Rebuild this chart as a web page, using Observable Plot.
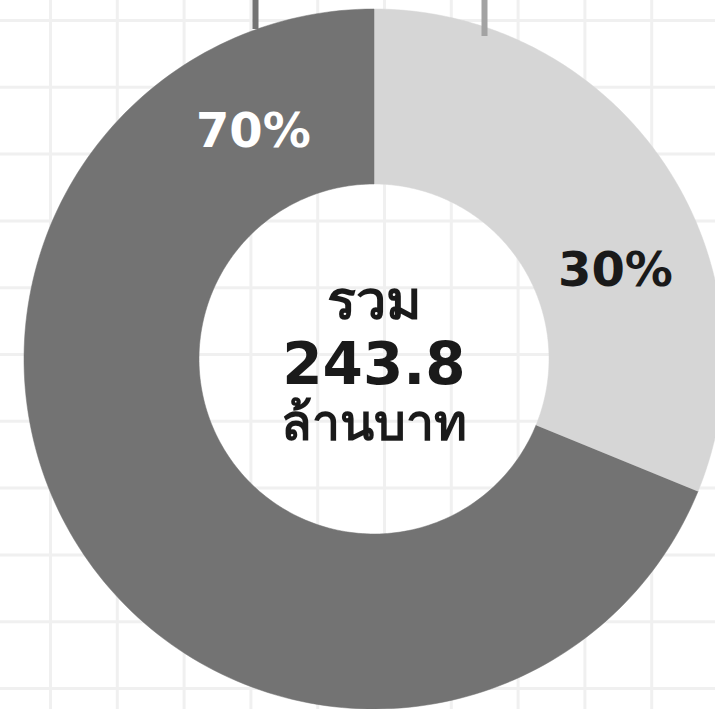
<!DOCTYPE html>
<html>
<head>
<meta charset="utf-8">
<script src="https://cdn.jsdelivr.net/npm/d3@7"></script>
<script src="https://cdn.jsdelivr.net/npm/@observablehq/plot@0.6"></script>
<style>
  html, body { margin: 0; padding: 0; background: #ffffff; }
  #chart svg { display: block; }
</style>
</head>
<body>
<div id="chart"></div>
<script>
// ---- data ----
const categories = ["ส่วนที่ 1", "ส่วนที่ 2"];
const values = [76.0, 167.8];            // ล้านบาท (estimated from arc angles)
const percentLabels = ["30%", "70%"];
const totalLabel = ["รวม", "243.8", "ล้านบาท"];

// ---- layout / style ----
const W = 715, H = 709;
const cx = 373.5, cy = 358.5, rOuter = 350, rInner = 175;
const sliceColors = ["#d6d6d6", "#737373"];
const labelColors = ["#1a1a1a", "#ffffff"];
const labelAngleDeg = [70, 332];
const labelRadius = 257;
const FONT = "'DejaVu Sans', 'Noto Sans', sans-serif";

const pie = d3.pie().sort(null).value(d => d.value);
const arcs = pie(categories.map((c, i) => ({cat: c, value: values[i], label: percentLabels[i]})));

// polygon vertices of each ring slice (angles from top, clockwise)
const pt = (r, a) => ({x: cx + r * Math.sin(a), y: cy - r * Math.cos(a)});
const poly = [];
arcs.forEach(a => {
  const n = 180;
  for (let k = 0; k <= n; k++) poly.push({cat: a.data.cat, ...pt(rOuter, a.startAngle + (a.endAngle - a.startAngle) * k / n)});
  for (let k = n; k >= 0; k--) poly.push({cat: a.data.cat, ...pt(rInner, a.startAngle + (a.endAngle - a.startAngle) * k / n)});
});

const labels = arcs.map((a, i) => ({...pt(labelRadius, labelAngleDeg[i] * Math.PI / 180), text: a.data.label, color: labelColors[i]}));

const gridX = d3.range(50, W, 66.8);
const gridY = d3.range(20, H, 66.8);

const leaders = [
  {x: 255, y1: 0, y2: 29, color: "#737373"},
  {x: 484, y1: 0, y2: 36, color: "#a3a3a3"}
];

const centerRows = [
  {text: totalLabel[0], y: cy - 57, size: 54},
  {text: totalLabel[1], y: cy + 6, size: 58},
  {text: totalLabel[2], y: cy + 65, size: 50}
].map(d => ({...d, x: cx}));

const chart = Plot.plot({
  width: W, height: H, margin: 0,
  x: {domain: [0, W], range: [0, W], axis: null},
  y: {domain: [0, H], range: [0, H], axis: null},
  color: {domain: categories, range: sliceColors},
  style: {background: "#ffffff", fontFamily: FONT},
  marks: [
    Plot.ruleX(gridX, {stroke: "#f0f0f0", strokeWidth: 3}),
    Plot.ruleY(gridY, {stroke: "#f0f0f0", strokeWidth: 3}),
    Plot.line(poly, {x: "x", y: "y", z: "cat", fill: "cat", stroke: "cat", strokeWidth: 0.5, curve: "linear"}),
    Plot.ruleX(leaders, {x: "x", y1: "y1", y2: "y2", stroke: "color", strokeWidth: 6}),
    Plot.text(labels, {x: "x", y: "y", text: "text", fill: "color", fontSize: 48, fontWeight: "bold", fontFamily: FONT}),
    ...centerRows.map(r => Plot.text([r], {x: "x", y: "y", text: "text", fill: "#1a1a1a", fontSize: r.size, fontWeight: "bold", fontFamily: FONT}))
  ]
});
document.getElementById("chart").appendChild(chart);
</script>
</body>
</html>
